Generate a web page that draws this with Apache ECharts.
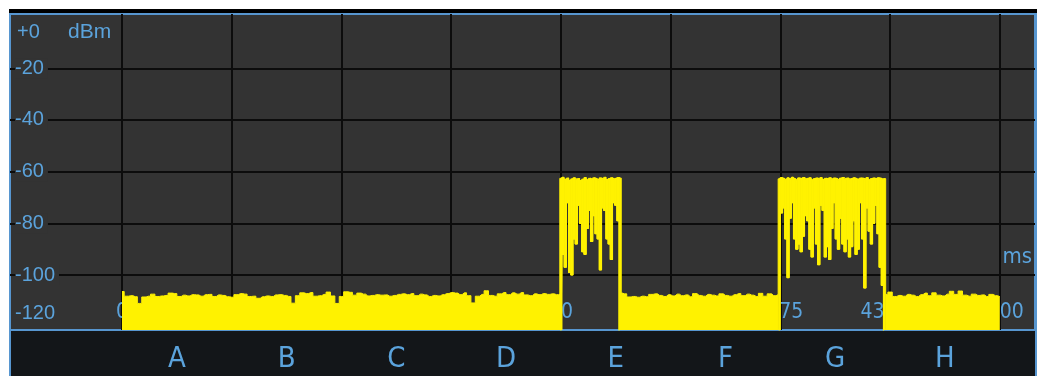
<!DOCTYPE html>
<html><head><meta charset="utf-8">
<script src="https://cdn.jsdelivr.net/npm/echarts@6/dist/echarts.min.js"></script>
<style>
html,body{margin:0;padding:0;background:#fff;width:1037px;height:376px;overflow:hidden;}
#bar{position:absolute;left:9px;top:9px;width:1028px;height:4px;background:#000;}
#band{position:absolute;left:9px;top:13px;width:1028px;height:363px;box-sizing:border-box;background:#131619;border-left:2px solid #5796d0;border-right:2px solid #5796d0;}
#chart{position:absolute;left:0;top:0;width:1037px;height:376px;}
</style></head><body>
<div id="bar"></div><div id="band"></div><div id="chart"></div>
<script>
// ---- data ----
const slotLetters = ['A','B','C','D','E','F','G','H'];
const slotCenters = [0.5,1.5,2.5,3.5,4.5,5.5,6.5,7.5];
const divisions = [0,1,2,3,4,5,6,7,8];
const levelTicks = [0,-20,-40,-60,-80,-100,-120];
const levelLabels = ['+0','-20','-40','-60','-80','-100','-120'];
const gridLevels = [-20,-40,-60,-80,-100];
const markerTimes = [0, 4.0, 5.99, 6.95, 8.0];
const markerTexts = ['0', '0', '75', '43', '00'];

// noise segment A-D: start 0, step 0.04
const noiseAD_start = 0, noiseAD_step = 0.04;
const noiseAD = [-106.4,-108.2,-108.0,-108.4,-111.0,-108.5,-108.2,-107.4,-108.3,-108.1,
 -107.9,-107.0,-107.2,-108.3,-107.8,-108.1,-107.6,-107.7,-108.2,-107.6,
 -107.5,-108.3,-107.7,-107.9,-108.4,-108.6,-107.6,-107.2,-107.4,-108.3,
 -108.2,-109.0,-108.4,-108.1,-108.3,-107.7,-107.6,-107.9,-108.3,-110.9,
 -108.0,-106.9,-107.2,-106.8,-108.2,-108.0,-107.5,-106.6,-108.1,-111.0,
 -108.3,-106.5,-106.7,-107.8,-107.0,-107.4,-108.1,-107.9,-107.6,-107.8,
 -107.7,-108.2,-107.9,-107.5,-107.3,-107.6,-107.2,-108.0,-107.4,-107.7,
 -108.3,-107.9,-108.1,-107.6,-107.2,-106.8,-107.0,-107.6,-106.9,-108.0,
 -110.8,-108.2,-107.5,-106.1,-107.9,-108.2,-107.3,-106.8,-107.6,-106.9,
 -107.4,-106.8,-107.7,-108.0,-107.3,-107.6,-107.2,-107.5,-107.3,-107.6,
 -107.4];

// burst E: start 4.00, step 0.02
const burstE_start = 4.0, burstE_step = 0.02;
const burstE_max = [-62.6,-62.2,-63.0,-62.5,-63.4,-62.8,-62.4,-63.1,-62.7,-63.5,
 -62.9,-62.3,-63.2,-62.6,-63.0,-62.4,-62.8,-63.3,-62.5,-62.9,
 -62.2,-63.1,-62.7,-62.4,-63.0,-62.6,-62.3,-62.5];
const burstE_min = [-122,-92,-97,-72,-99,-100,-86,-88,-73,-80,
 -91,-92,-82,-75,-87,-77,-84,-86,-98,-74,
 -75,-86,-88,-94,-72,-73,-79,-122];

// noise segment F: start 4.54, step 0.04
const noiseF_start = 4.54, noiseF_step = 0.04;
const noiseF = [-107.0,-107.3,-108.5,-108.3,-108.6,-108.2,-108.4,-107.5,-107.3,-107.9,
 -108.3,-107.6,-108.1,-107.4,-108.0,-107.7,-108.4,-107.2,-107.9,-108.2,
 -107.5,-107.8,-108.1,-107.3,-107.9,-108.2,-107.6,-107.2,-108.0,-107.4,
 -107.8,-108.3,-107.1,-108.2,-107.3,-108.0,-107.6];

// burst G: start 5.99, step 0.02
const burstG_start = 5.99, burstG_step = 0.02;
const burstG_max = [-62.8,-62.3,-62.6,-63.1,-62.4,-62.9,-62.2,-62.7,-63.3,-62.5,
 -62.8,-62.3,-63.0,-62.6,-62.4,-63.2,-62.7,-62.5,-62.9,-62.3,
 -63.1,-62.6,-62.8,-62.4,-63.0,-62.5,-62.7,-63.4,-62.6,-62.3,
 -62.9,-62.5,-63.1,-62.7,-62.4,-62.8,-63.0,-62.5,-62.6,-62.9,
 -62.3,-63.2,-62.7,-62.5,-62.8,-62.4,-62.6,-63.0,-62.7];
const burstG_min = [-122,-76,-74,-86,-101,-78,-72,-86,-90,-88,
 -91,-85,-77,-79,-90,-93,-74,-88,-96,-73,
 -75,-93,-89,-94,-82,-72,-86,-90,-78,-88,
 -91,-86,-93,-89,-79,-92,-90,-72,-86,-105,
 -74,-83,-88,-80,-73,-84,-97,-104,-122];

// noise segment H: start 6.96, step 0.04
const noiseH_start = 6.96, noiseH_step = 0.04;
const noiseH = [-107.5,-106.6,-108.3,-107.9,-108.2,-107.5,-107.8,-108.3,-107.6,-107.0,
 -108.0,-106.9,-107.8,-108.1,-107.4,-106.3,-107.5,-106.2,-107.8,-108.2,
 -107.4,-107.9,-107.7,-108.3,-107.5,-108.0,-108.4];

// ---- build ----
const YEL = '#fff200';
const BLUE = '#5ba3dc';
const NARROW = "'Liberation Sans Narrow','DejaVu Sans Condensed','Liberation Sans',sans-serif";
const REG = "'Liberation Sans',Arial,sans-serif";
const xMin = -1.0207, xMax = 8.3208, yMin = -121.28, yMax = 1.0;

function xs(start, step, n){ return Array.from({length:n}, (_, i)=>Math.round((start+i*step)*10000)/10000); }
function pairs(start, step, vals){
  const x = xs(start, step, vals.length);
  return vals.map((v,i)=>[x[i], v]);
}
function noiseSeries(name, start, step, vals){
  return {name, type:'line', data:pairs(start,step,vals), step:'middle', symbol:'none',
    lineStyle:{color:YEL, width:1}, areaStyle:{color:YEL, opacity:1, origin:'start'}, z:3, silent:true};
}
function burstSeries(name, start, step, maxV, minV){
  const x = xs(start, step, maxV.length);
  const band = x.map((xv,i)=>[xv, minV[i], maxV[i]]);
  return [
    {name:name+'-fill', type:'custom', data:band, encode:{x:0, y:[1,2]}, z:3, silent:true, clip:true,
     renderItem:(params, api)=>{
       const xv = api.value(0);
       const p1 = api.coord([xv - step/2, api.value(2)]);
       const p2 = api.coord([xv + step/2, api.value(1)]);
       return {type:'rect', shape:{x:p1[0], y:p1[1], width:p2[0]-p1[0], height:p2[1]-p1[1]},
               style:{fill:YEL, stroke:YEL, lineWidth:1}};
     }},
    {name:name+'-min', type:'line', data:pairs(start,step,minV),
     step:'middle', symbol:'none', lineStyle:{color:YEL, width:1.2}, z:3, silent:true},
    {name:name+'-max', type:'line', data:pairs(start,step,maxV),
     step:'middle', symbol:'none', lineStyle:{color:YEL, width:1.2}, z:3, silent:true}
  ];
}
function markerAxis(align){
  const idx = markerTimes.map((t,i)=>i).filter(i=>{
    const a = i===0 ? 'center' : (markerTexts[i]==='43' ? 'right' : 'left');
    return a===align;
  });
  return {type:'value', gridIndex:0, position:'bottom', min:xMin, max:xMax,
    axisLine:{show:false, onZero:false}, axisTick:{show:false}, splitLine:{show:false},
    axisLabel:{inside:true, margin:7, align:align, customValues: idx.map(i=>markerTimes[i]),
      formatter:v=>markerTexts[markerTimes.indexOf(v)], color:BLUE, fontSize:21, fontFamily:NARROW}};
}

const chart = echarts.init(document.getElementById('chart'), null, {renderer:'canvas'});
chart.setOption({
  animation:false,
  backgroundColor:'transparent',
  grid:[{left:10, top:14, width:1025, height:316, show:true, backgroundColor:'#333333',
    borderColor:'#5796d0', borderWidth:2, containLabel:false}],
  xAxis:[
    {type:'value', gridIndex:0, position:'bottom', min:xMin, max:xMax,
     axisLine:{show:false, onZero:false}, axisTick:{show:false, customValues:divisions},
     splitLine:{show:true, lineStyle:{color:'#0c0c0c', width:2}},
     axisLabel:{customValues:slotCenters, formatter:v=>slotLetters[Math.floor(v)],
       color:BLUE, fontSize:29, fontFamily:NARROW, margin:15},
     name:'ms', nameLocation:'end', nameGap:-3, nameMoveOverlap:false,
     nameTextStyle:{color:BLUE, fontSize:22, fontFamily:NARROW, align:'right', verticalAlign:'bottom', padding:[0,0,62,0]}},
    markerAxis('center'), markerAxis('left'), markerAxis('right')
  ],
  yAxis:[{type:'value', gridIndex:0, position:'left', min:yMin, max:yMax,
    axisLine:{show:false, onZero:false}, axisTick:{show:false, customValues:gridLevels},
    splitLine:{show:true, lineStyle:{color:'#0c0c0c', width:2}},
    axisLabel:{inside:true, margin:5, customValues:levelTicks,
      formatter:v=>{
        const t = levelLabels[levelTicks.indexOf(v)];
        if (v===levelTicks[0]) return '{t|'+t+'}';
        if (v===levelTicks[levelTicks.length-1]) return '{b|'+t+'}';
        return '{m|'+t+'}';
      },
      rich:{
        t:{color:BLUE, fontSize:20, fontFamily:REG, padding:[31,0,0,2]},
        b:{color:BLUE, fontSize:20, fontFamily:REG, padding:[0,0,27,0]},
        m:{color:BLUE, fontSize:20, fontFamily:REG, backgroundColor:'#333333', padding:[0,4,0,0]}
      }},
    name:'dBm', nameLocation:'end', nameGap:-18, nameMoveOverlap:false,
    nameTextStyle:{color:BLUE, fontSize:21, fontFamily:REG, align:'left', verticalAlign:'middle', padding:[0,0,0,58]}
  }],
  series:[
    noiseSeries('A-D', noiseAD_start, noiseAD_step, noiseAD),
    ...burstSeries('E', burstE_start, burstE_step, burstE_max, burstE_min),
    noiseSeries('F', noiseF_start, noiseF_step, noiseF),
    ...burstSeries('G', burstG_start, burstG_step, burstG_max, burstG_min),
    noiseSeries('H', noiseH_start, noiseH_step, noiseH)
  ]
});
</script>
</body></html>
